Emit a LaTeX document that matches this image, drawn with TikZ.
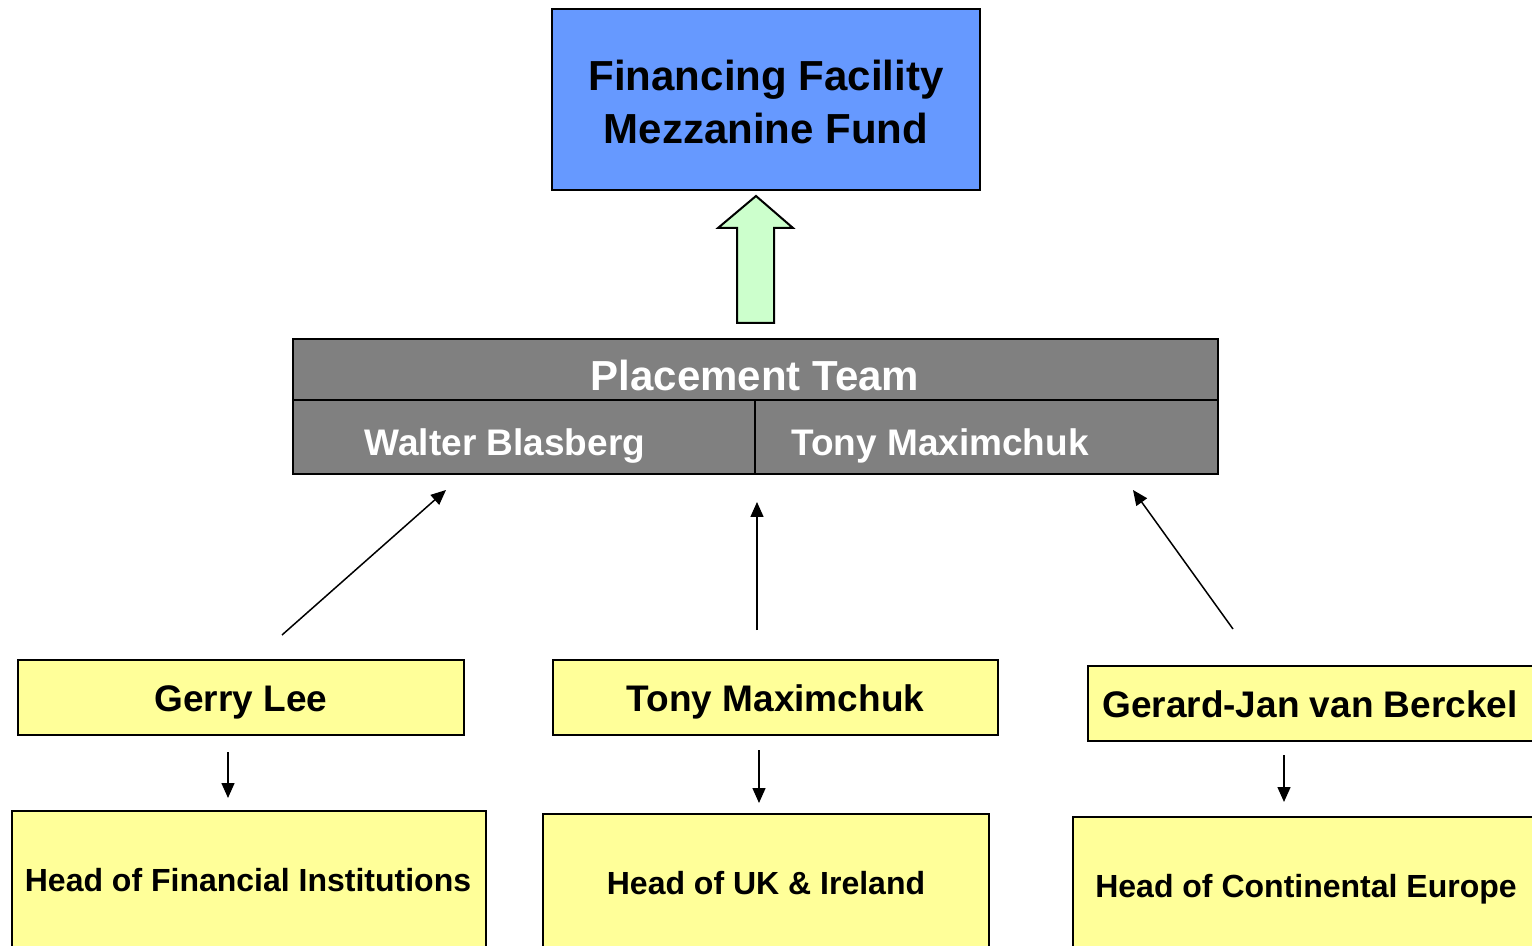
\documentclass[tikz,border=0pt]{standalone}
\usepackage{fontspec}
\setmainfont{Liberation Sans}
\usetikzlibrary{arrows.meta}
\definecolor{topblue}{HTML}{6699FF}
\definecolor{teamgray}{HTML}{808080}
\definecolor{boxyellow}{HTML}{FFFF99}
\definecolor{arrowgreen}{HTML}{CCFFCC}
\tikzset{
  box/.style={draw=black, line width=1pt, rectangle, inner sep=0pt},
  plain/.style={inner sep=0pt},
  toptext/.style={plain, align=center, font=\fontsize{21}{26.5}\selectfont\bfseries},
  nametext/.style={plain, font=\fontsize{18.5}{22}\selectfont\bfseries},
  headtext/.style={plain, font=\fontsize{16}{19}\selectfont\bfseries},
  teamtitle/.style={plain, text=white, font=\fontsize{21}{25}\selectfont\bfseries},
  teamname/.style={plain, text=white, font=\fontsize{18.5}{22}\selectfont\bfseries},
  conn/.style={line width=0.75pt, -{Triangle[length=7.5pt,width=6.5pt]}},
}
\begin{document}
\begin{tikzpicture}[x=0.5pt,y=-0.5pt]
\useasboundingbox (0,0) rectangle (1532,946);
\clip (0,0) rectangle (1532,946);
\fill[white] (0,0) rectangle (1532,946);

% top box
\node[box, fill=topblue, minimum width=214pt, minimum height=90.5pt] (fund) at (766,99.5) {};
\node[toptext] (fundt) at (766,101.5) {Financing Facility\\Mezzanine Fund};

% green block arrow
\draw[line width=1pt, fill=arrowgreen, line join=miter]
  (737,323) -- (737,228) -- (718,228) -- (756,196) -- (793,228) -- (774,228) -- (774,323) -- cycle;

% placement team
\node[box, fill=teamgray, minimum width=462.5pt, minimum height=67.5pt] (team) at (755.5,406.5) {};
\draw[line width=1pt] (293,400) -- (1218,400);
\draw[line width=1pt] (755,400) -- (755,474);
\node[teamtitle] (teamt) at (755,375) {Placement Team};
\node[teamname] (wb) at (505,446) {Walter Blasberg};
\node[teamname] (tm1) at (940,446) {Tony Maximchuk};

% name boxes
\node[box, fill=boxyellow, minimum width=223pt, minimum height=37.5pt] (gl) at (241,697.5) {};
\node[nametext] (glt) at (241,702) {Gerry Lee};
\node[box, fill=boxyellow, minimum width=222.5pt, minimum height=37.5pt] (tm2) at (775.5,697.5) {};
\node[nametext] (tm2t) at (775.5,702) {Tony Maximchuk};
\node[box, fill=boxyellow, minimum width=230pt, minimum height=37.5pt] (gjbox) at (1318,703.5) {};
\node[nametext] (gj) at (1310,704) {Gerard-Jan van Berckel};

% head boxes
\node[box, fill=boxyellow, minimum width=237pt, minimum height=74.5pt] (fi) at (249,885.5) {};
\node[headtext] (fit) at (248,880) {Head of Financial Institutions};
\node[box, fill=boxyellow, minimum width=223pt, minimum height=73pt] (uk) at (766,887) {};
\node[headtext] (ukt) at (766,883) {Head of UK \& Ireland};
\node[box, fill=boxyellow, minimum width=236pt, minimum height=71.5pt] (ce) at (1309,888.5) {};
\node[headtext] (cet) at (1306,889) {Head of Continental Europe};

% connector end points
\coordinate (a1s) at (282,635);  \coordinate (a1e) at (446,490);
\coordinate (a2s) at (757,630);  \coordinate (a2e) at (757,502);
\coordinate (a3s) at (1233,629); \coordinate (a3e) at (1133,490);
\coordinate (d1s) at (228,752);  \coordinate (d1e) at (228,798);
\coordinate (d2s) at (759,750);  \coordinate (d2e) at (759,803);
\coordinate (d3s) at (1284,755); \coordinate (d3e) at (1284,802);

\draw[conn] (a1s) -- (a1e);
\draw[conn] (a2s) -- (a2e);
\draw[conn] (a3s) -- (a3e);
\draw[conn] (d1s) -- (d1e);
\draw[conn] (d2s) -- (d2e);
\draw[conn] (d3s) -- (d3e);
\end{tikzpicture}
\end{document}
